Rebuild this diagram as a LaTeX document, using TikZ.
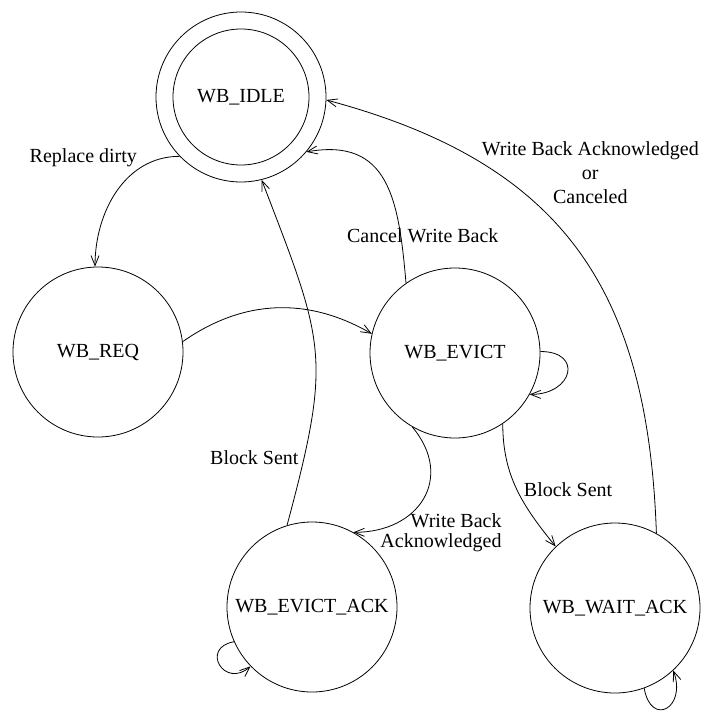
\documentclass[tikz,border=0pt]{standalone}
\usepackage{fontspec}
\setmainfont{Liberation Serif}
\usetikzlibrary{arrows.meta}
\tikzset{>={Straight Barb[length=5pt,width=4pt]}}

\begin{document}
\begin{tikzpicture}[x=0.5pt,y=0.5pt,
    wbstate/.style={circle,draw,minimum size=85pt,inner sep=0pt}]
    \useasboundingbox (0,0) rectangle (704,-711);
    % States
    \node[wbstate] (idle) at (241,-97) {WB\_IDLE};
    \draw (idle.center) circle (34pt);
    \node[wbstate] (req) at (98,-352) {WB\_REQ};
    \node[wbstate] (evict) at (455,-353) {WB\_EVICT};
    \node[wbstate] (evictack) at (312,-607) {WB\_EVICT\_ACK};
    \node[wbstate] (waitack) at (615,-608) {WB\_WAIT\_ACK};

    % Transitions
    \draw [->] (idle.224) to[out=180,in=90] node[pos=0.1,left=10pt] {Replace dirty} (req.92);
    \draw [->] (req.7) to[out=35,in=150] (evict.167);
    \draw [->] (evict.125) to[out=95,in=10,looseness=1.3] node[pos=0.2,xshift=11pt,yshift=0pt] {Cancel Write Back} (idle.320);
    \draw [->] (waitack.61) to[out=92,in=-15,looseness=1.15] node[pos=0.7,xshift=45pt,yshift=1.5pt,align=center] {Write Back Acknowledged\\or\\Canceled} (idle.358);
    \draw [->] (evict.1) to[out=0,in=0,looseness=2.5] (evict.-29);
    \draw [->] (evict.-56) to[out=-90,in=129] node[midway,right] {Block Sent} (waitack.134);
    \draw [->] (evict.240) to[out=-50,in=0,looseness=1.4] node[pos=1,right=10pt,align=right] {Write Back\\[-2pt]Acknowledged} (evictack.61);
    \draw [->] (evictack.107) to[out=75,in=-69,looseness=1.3] node[pos=0.17,left,yshift=-3.5pt] {Block Sent} (idle.284);
    % Self loops
    \draw [->] (evictack.204) to[out=190,in=221,looseness=3] (evictack.224);
    \draw [->] (waitack.-70) to[out=-80,in=-70,looseness=3] (waitack.-47);
\end{tikzpicture}
\end{document}
